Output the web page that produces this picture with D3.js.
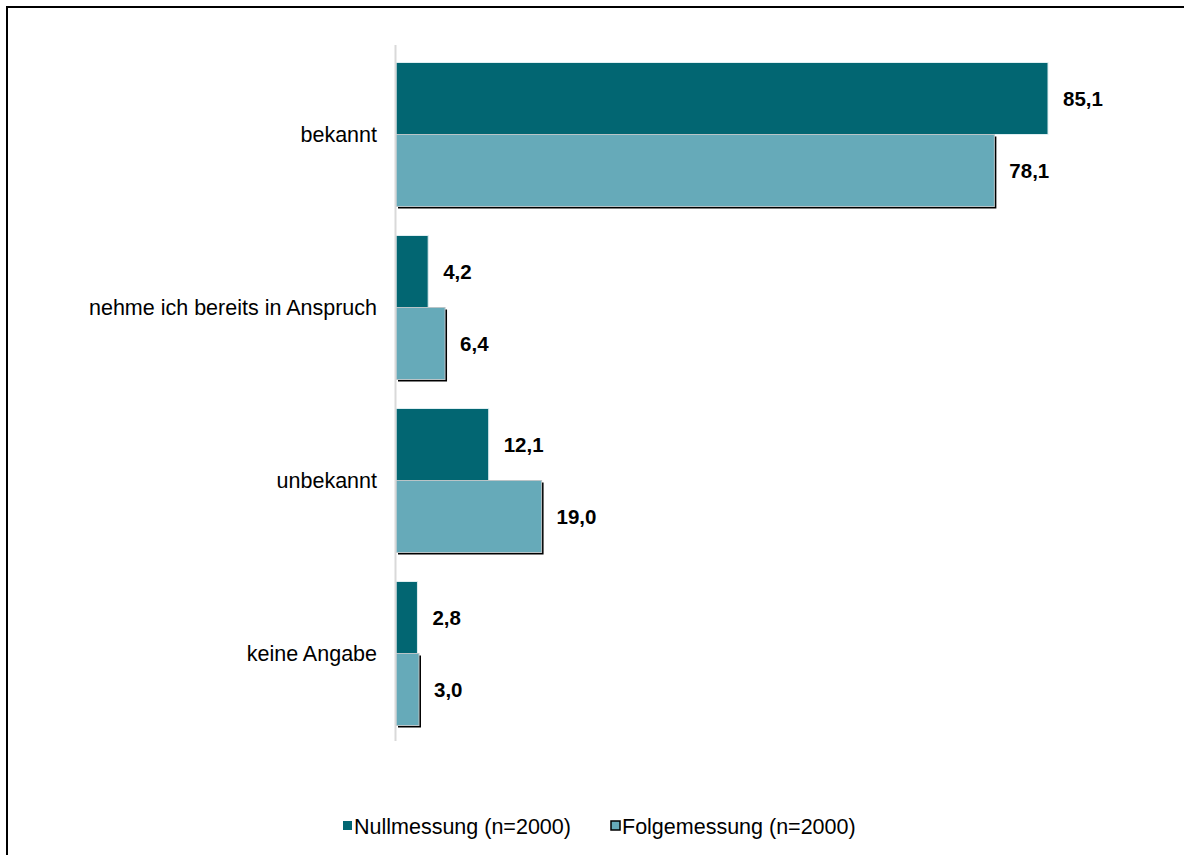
<!DOCTYPE html>
<html>
<head>
<meta charset="utf-8">
<script src="https://cdn.jsdelivr.net/npm/d3@7"></script>
<style>
  body { margin: 0; background: #fff; }
  svg { display: block; font-family: "Liberation Sans", Arial, sans-serif; }
</style>
</head>
<body>
<div id="chart"></div>
<script>
const categories = ['bekannt', 'nehme ich bereits in Anspruch', 'unbekannt', 'keine Angabe']
const seriesNames = ['Nullmessung (n=2000)', 'Folgemessung (n=2000)']
const nullmessung = [85.1, 4.2, 12.1, 2.8]
const folgemessung = [78.1, 6.4, 19.0, 3.0]

const width = 1184
const height = 855
const colors = ['#026672', '#66aab9']

const svg = d3.select('#chart').append('svg')
  .attr('width', width)
  .attr('height', height)

// outer frame (only top and left visible)
svg.append('path')
  .attr('d', 'M7,' + height + 'V7H' + width)
  .attr('fill', 'none')
  .attr('stroke', '#000')
  .attr('stroke-width', 2)

const x = d3.scaleLinear().domain([0, 85.1]).range([396, 1048])
const y = d3.scaleBand().domain(categories).range([48, 740])
  .paddingInner(29 / 173).paddingOuter(29 / 173 / 2)
const sub = d3.scaleBand().domain([0, 1]).range([0, y.bandwidth()])

const rows = categories.map((c, i) => ({ cat: c, values: [nullmessung[i], folgemessung[i]] }))

const g = svg.append('g')

rows.forEach(row => {
  row.values.forEach((v, s) => {
    const y0 = y(row.cat) + sub(s)
    if (s === 1) {
      // dark shadow on right/bottom of light bars
      g.append('rect')
        .attr('x', x(0) + 2)
        .attr('y', y0 + 2)
        .attr('width', x(v) - x(0))
        .attr('height', sub.bandwidth())
        .attr('fill', '#000')
    }
    g.append('rect')
      .attr('x', x(0))
      .attr('y', y0)
      .attr('width', x(v) - x(0))
      .attr('height', sub.bandwidth())
      .attr('fill', colors[s])
      .attr('stroke', s === 0 ? '#dfeef1' : '#b9c4c7')
      .attr('stroke-width', 1)
    g.append('text')
      .attr('x', x(v) + 15)
      .attr('y', y0 + sub.bandwidth() / 2)
      .attr('dy', '0.35em')
      .attr('font-size', 20.5)
      .attr('font-weight', 'bold')
      .attr('fill', '#000')
      .text(d3.format('.1f')(v).replace('.', ','))
  })
})

// category axis line
svg.append('line')
  .attr('x1', x(0) - 0.5).attr('x2', x(0) - 0.5)
  .attr('y1', 45).attr('y2', 741)
  .attr('stroke', '#d9d9d9')
  .attr('stroke-width', 2)

// category labels
svg.selectAll('.cat')
  .data(categories)
  .enter()
  .append('text')
  .attr('class', 'cat')
  .attr('x', 377)
  .attr('y', d => y(d) + y.bandwidth() / 2)
  .attr('dy', '0.35em')
  .attr('text-anchor', 'end')
  .attr('font-size', 21.5)
  .attr('fill', '#000')
  .text(d => d)

// legend
const legendX = [343, 611]
const legend = svg.selectAll('.legend')
  .data(seriesNames)
  .enter()
  .append('g')
  .attr('class', 'legend')
  .attr('transform', (d, i) => 'translate(' + legendX[i] + ',826)')

legend.append('rect')
  .attr('x', 0)
  .attr('y', -5)
  .attr('width', 9)
  .attr('height', 9)
  .attr('fill', (d, i) => colors[i])
  .attr('stroke', (d, i) => i === 1 ? '#000' : 'none')
  .attr('stroke-width', 1.5)

legend.append('text')
  .attr('x', 11)
  .attr('y', 0)
  .attr('dy', '0.35em')
  .attr('font-size', 21.5)
  .attr('fill', '#000')
  .text(d => d)
</script>
</body>
</html>
